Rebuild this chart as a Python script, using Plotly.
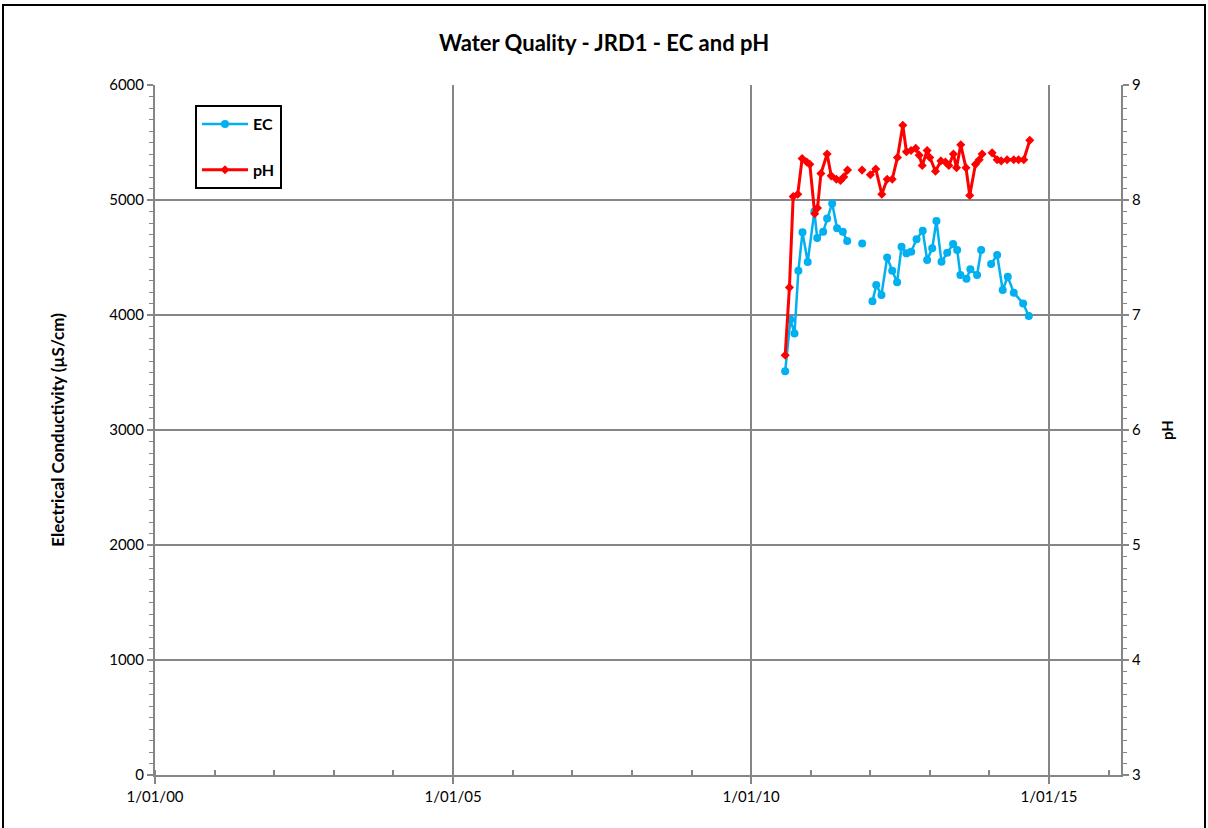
import plotly.graph_objects as go

# ---- data ----
ec_dates = ["2010-07-29", "2010-08-30", "2010-09-24", "2010-10-18", "2010-11-12", "2010-12-14",
            "2011-01-24", "2011-02-10", "2011-03-19", "2011-04-12", "2011-05-13", "2011-06-12",
            "2011-07-17", "2011-08-13", "2011-09-27", "2011-11-13", "2011-12-15",
            "2012-01-15", "2012-02-07", "2012-03-10", "2012-04-14", "2012-05-15", "2012-06-14",
            "2012-07-11", "2012-08-10", "2012-09-08", "2012-10-11", "2012-11-18", "2012-12-15",
            "2013-01-15", "2013-02-10", "2013-03-13", "2013-04-17", "2013-05-23", "2013-06-17",
            "2013-07-07", "2013-08-13", "2013-09-06", "2013-10-17", "2013-11-11", "2013-12-07",
            "2014-01-11", "2014-02-17", "2014-03-23", "2014-04-23", "2014-05-30", "2014-07-26",
            "2014-08-30"]
ec_values = [3510, 3960, 3840, 4385, 4720, 4460,
             4900, 4670, 4725, 4840, 4970, 4755,
             4725, 4643, None, 4622, None,
             4120, 4260, 4175, 4500, 4385, 4285,
             4594, 4536, 4550, 4658, 4733, 4478,
             4580, 4817, 4463, 4541, 4617, 4565,
             4348, 4316, 4397, 4348, 4565, None,
             4443, 4522, 4217, 4333, 4194, 4100,
             3991]

ph_dates = ["2010-07-29", "2010-08-24", "2010-09-16", "2010-10-14", "2010-11-10", "2010-12-08",
            "2010-12-27", "2011-01-26", "2011-02-12", "2011-03-05", "2011-04-12", "2011-05-07",
            "2011-06-08", "2011-07-03", "2011-07-23", "2011-08-15", "2011-09-27", "2011-11-12",
            "2011-12-10", "2012-01-02", "2012-02-04", "2012-03-12", "2012-04-14", "2012-05-15",
            "2012-06-16", "2012-07-19", "2012-08-10", "2012-09-07", "2012-10-06", "2012-10-27",
            "2012-11-15", "2012-12-15", "2012-12-31", "2013-02-04", "2013-03-09", "2013-04-06",
            "2013-04-27", "2013-05-25", "2013-06-13", "2013-07-09", "2013-08-10", "2013-09-02",
            "2013-10-07", "2013-10-30", "2013-11-17", "2013-12-10", "2014-01-17", "2014-02-17",
            "2014-03-14", "2014-04-19", "2014-05-30", "2014-06-28", "2014-07-30", "2014-09-05"]
ph_values = [6.65, 7.24, 8.03, 8.05, 8.36, 8.33,
             8.31, 7.88, 7.93, 8.23, 8.40, 8.21,
             8.18, 8.17, 8.20, 8.26, None, 8.26,
             None, 8.22, 8.27, 8.05, 8.18, 8.18,
             8.37, 8.65, 8.42, 8.43, 8.45, 8.39,
             8.30, 8.43, 8.37, 8.25, 8.34, 8.33,
             8.30, 8.40, 8.28, 8.48, 8.28, 8.04,
             8.31, 8.35, 8.40, None, 8.41, 8.35,
             8.34, 8.35, 8.35, 8.35, 8.35, 8.52]

x_range = ["2000-01-01", "2016-03-17"]
ec_range = [0, 6000]
ph_range = [3, 9]

FONT = "Lato"
GRID = "#868686"

fig = go.Figure()
fig.add_trace(go.Scatter(
    x=ec_dates, y=ec_values, name="<b>EC</b>", mode="lines+markers",
    line=dict(color="#00B0F0", width=2.5),
    marker=dict(symbol="circle", size=8, color="#00B0F0"),
    legendgroup="ec", yaxis="y"))
fig.add_trace(go.Scatter(
    x=ph_dates, y=ph_values, name="<b>pH</b>", mode="lines+markers",
    line=dict(color="#FF0000", width=3),
    marker=dict(symbol="diamond", size=7, color="#FF0000"),
    legendgroup="ph", yaxis="y2"))

fig.update_layout(
    width=1208, height=828,
    margin=dict(l=155, r=87, t=85, b=53),
    paper_bgcolor="white", plot_bgcolor="white",
    font=dict(family=FONT, size=14, color="black"),
    title=dict(text="<b>Water Quality - JRD1 - EC and pH</b>", x=0.5, xanchor="center",
               y=1 - 43 / 828, yanchor="middle", font=dict(size=22, family=FONT)),
    showlegend=True,
    legend=dict(x=(195 - 155) / 966, y=(775 - 105) / 690, xanchor="left", yanchor="top",
                bordercolor="black", borderwidth=2, bgcolor="white",
                font=dict(size=16, family=FONT), tracegroupgap=22,
                itemwidth=46),
    xaxis=dict(
        type="date", range=x_range, tickmode="linear", tick0="2000-01-01", dtick="M60",
        tickformat="%-d/%m/%y", showgrid=True, gridcolor=GRID, gridwidth=2,
        showline=True, linecolor=GRID, linewidth=2,
        ticks="outside", ticklen=7, tickwidth=2, tickcolor=GRID,
        minor=dict(dtick="M12", tick0="2000-01-01", ticks="inside", ticklen=5,
                   tickwidth=2, tickcolor=GRID, showgrid=False),
        tickfont=dict(size=15), zeroline=False),
    yaxis=dict(
        range=ec_range, dtick=1000, showgrid=True, gridcolor=GRID, gridwidth=2,
        showline=True, linecolor=GRID, linewidth=2,
        ticks="outside", ticklen=6, tickwidth=2, tickcolor=GRID,
        minor=dict(dtick=100, ticks="outside", ticklen=4, tickwidth=1, tickcolor=GRID,
                   showgrid=False),
        title=dict(text="<b>Electrical Conductivity (µS/cm)</b>", font=dict(size=17), standoff=40),
        tickfont=dict(size=15), zeroline=False),
    yaxis2=dict(
        range=ph_range, dtick=1, overlaying="y", side="right", showgrid=False,
        showline=True, linecolor=GRID, linewidth=2,
        ticks="outside", ticklen=6, tickwidth=2, tickcolor=GRID,
        minor=dict(dtick=0.1, ticks="outside", ticklen=4, tickwidth=1, tickcolor=GRID),
        title=dict(text="<b>pH</b>", font=dict(size=15), standoff=22),
        tickfont=dict(size=15), zeroline=False),
)

# outer chart border
fig.add_shape(type="rect", xref="paper", yref="paper",
              x0=(3 - 155) / 966, x1=(1205 - 155) / 966,
              y0=(775 - 840) / 690, y1=(775 - 5) / 690,
              line=dict(color="black", width=2), fillcolor="rgba(0,0,0,0)", layer="below")

fig.write_html("out.html", config={"displayModeBar": False},
               post_script="document.body.style.margin='0';")
